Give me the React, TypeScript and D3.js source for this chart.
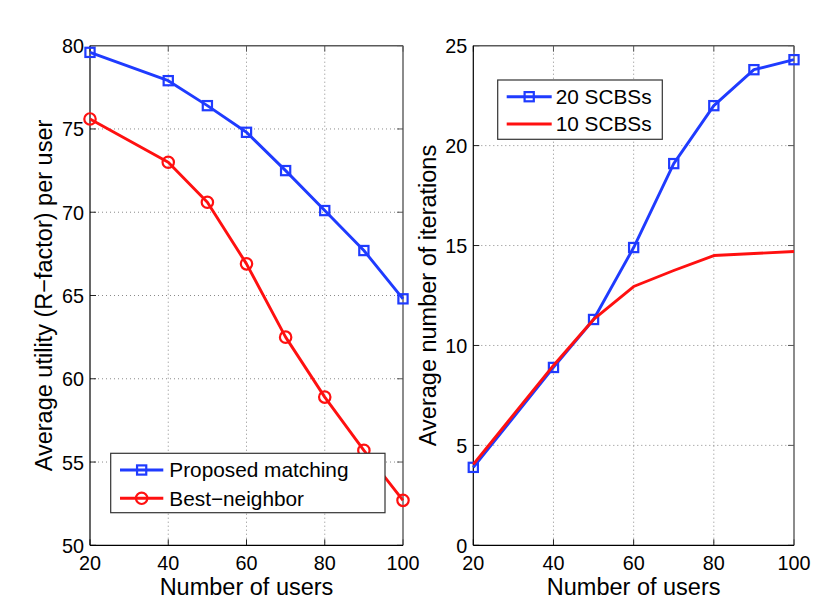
import React from "react";
import * as d3 from "d3";

const usersA = [20, 40, 50, 60, 70, 80, 90, 100];
const proposed = [79.6, 77.9, 76.4, 74.8, 72.5, 70.1, 67.7, 64.8];
const bestNeighbor = [75.6, 73.0, 70.6, 66.9, 62.5, 58.9, 55.7, 52.7];

const usersB = [20, 40, 50, 60, 70, 80, 90, 100];
const scbs20 = [3.9, 8.9, 11.3, 14.9, 19.1, 22.0, 23.8, 24.3];
const usersC = [20, 40, 50, 60, 70, 80, 90, 100];
const scbs10 = [4.05, 9.0, 11.3, 12.95, 13.75, 14.5, 14.6, 14.7];

const xTicks = [20, 40, 60, 80, 100];
const yTicksA = [50, 55, 60, 65, 70, 75, 80];
const yTicksB = [0, 5, 10, 15, 20, 25];

const BLUE = "#1f3bff";
const RED = "#ff1010";
const FONT = "'Liberation Sans', Arial, Helvetica, sans-serif";

type Series = { xs: number[]; ys: number[]; color: string; marker: "square" | "circle" | "none"; label: string };

function Marker({ x, y, kind, color }: { x: number; y: number; kind: string; color: string }) {
  if (kind === "square")
    return <rect x={x - 4.6} y={y - 4.6} width={9.2} height={9.2} fill="none" stroke={color} strokeWidth={2.2} />;
  if (kind === "circle") return <circle cx={x} cy={y} r={5.7} fill="none" stroke={color} strokeWidth={2.2} />;
  return null;
}

function Panel(props: {
  left: number; right: number; top: number; bottom: number;
  yDomain: [number, number]; yTicks: number[]; yLabel: string; series: Series[];
  legend: { x0: number; y0: number; x1: number; y1: number; lineX0: number; lineX1: number; textX: number; rows: number[] };
}) {
  const { left, right, top, bottom, yDomain, yTicks, yLabel, series, legend } = props;
  const x = d3.scaleLinear().domain([20, 100]).range([left, right]);
  const y = d3.scaleLinear().domain(yDomain).range([bottom, top]);
  const line = d3.line<[number, number]>().x((d) => x(d[0])).y((d) => y(d[1]));
  const tl = 6;
  return (
    <g>
      {xTicks.slice(1, -1).map((t) => (
        <line key={"gx" + t} x1={x(t)} x2={x(t)} y1={top} y2={bottom} stroke="#8a8a8a" strokeWidth={1} strokeDasharray="1,3" />
      ))}
      {yTicks.slice(1, -1).map((t) => (
        <line key={"gy" + t} x1={left} x2={right} y1={y(t)} y2={y(t)} stroke="#8a8a8a" strokeWidth={1} strokeDasharray="1,3" />
      ))}
      {xTicks.map((t) => (
        <g key={"tx" + t}>
          <line x1={x(t)} x2={x(t)} y1={bottom} y2={bottom - tl} stroke="#222" strokeWidth={1} />
          <line x1={x(t)} x2={x(t)} y1={top} y2={top + tl} stroke="#555" strokeWidth={1} />
          <text x={x(t)} y={bottom + 24.7} textAnchor="middle" fontSize={19.8} fontFamily={FONT} fill="#000">{t}</text>
        </g>
      ))}
      {yTicks.map((t) => (
        <g key={"ty" + t}>
          <line x1={left} x2={left + tl} y1={y(t)} y2={y(t)} stroke="#222" strokeWidth={1} />
          <line x1={right} x2={right - tl} y1={y(t)} y2={y(t)} stroke="#555" strokeWidth={1} />
          <text x={left - 6} y={y(t) + 7.5} textAnchor="end" fontSize={19.8} fontFamily={FONT} fill="#000">{t}</text>
        </g>
      ))}
      <line x1={left} x2={right} y1={top} y2={top} stroke="#5a5a5a" strokeWidth={1.4} />
      <line x1={right} x2={right} y1={top} y2={bottom} stroke="#5a5a5a" strokeWidth={1.4} />
      <line x1={left} x2={left} y1={top} y2={bottom} stroke="#000" strokeWidth={1.2} />
      <line x1={left} x2={right} y1={bottom} y2={bottom} stroke="#000" strokeWidth={1.2} />
      {series.map((s, i) => {
        const pts = s.xs.map((v, k) => [v, s.ys[k]] as [number, number]);
        return (
          <g key={"s" + i}>
            <path d={line(pts) || ""} fill="none" stroke={s.color} strokeWidth={2.9} strokeLinejoin="round" />
            {pts.map((p, k) => (
              <Marker key={k} x={x(p[0])} y={y(p[1])} kind={s.marker} color={s.color} />
            ))}
          </g>
        );
      })}
      <text x={(left + right) / 2} y={bottom + 50} textAnchor="middle" fontSize={23.5} fontFamily={FONT} fill="#000">Number of users</text>
      <text transform={`translate(${left - (left < 200 ? 38.5 : 37.5)},${(top + bottom) / 2}) rotate(-90)`} textAnchor="middle" fontSize={23.5} fontFamily={FONT} fill="#000">{yLabel}</text>
      <rect x={legend.x0} y={legend.y0} width={legend.x1 - legend.x0} height={legend.y1 - legend.y0} fill="#fff" stroke="#333" strokeWidth={1.2} />
      {series.map((s, i) => {
        const ry = legend.rows[i];
        return (
          <g key={"l" + i}>
            <line x1={legend.lineX0} x2={legend.lineX1} y1={ry} y2={ry} stroke={s.color} strokeWidth={2.9} />
            <Marker x={(legend.lineX0 + legend.lineX1) / 2} y={ry} kind={s.marker} color={s.color} />
            <text x={legend.textX} y={ry + 7.4} fontSize={20.8} fontFamily={FONT} fill="#000">{s.label}</text>
          </g>
        );
      })}
    </g>
  );
}

export default function App() {
  return (
    <svg width={830} height={613} style={{ position: "absolute", left: 0, top: 0, background: "#fff" }}>
      <rect width={830} height={613} fill="#fff" />
      <Panel
        left={90} right={403} top={45.7} bottom={545.3}
        yDomain={[50, 80]} yTicks={yTicksA}
        yLabel="Average utility (R−factor) per user"
        series={[
          { xs: usersA, ys: proposed, color: BLUE, marker: "square", label: "Proposed matching" },
          { xs: usersA, ys: bestNeighbor, color: RED, marker: "circle", label: "Best−neighbor" },
        ]}
        legend={{ x0: 110.7, y0: 453.3, x1: 385, y1: 512.7, lineX0: 120, lineX1: 163.3, textX: 169.3, rows: [470, 498.3] }}
      />
      <Panel
        left={473.3} right={794} top={45.7} bottom={545.3}
        yDomain={[0, 25]} yTicks={yTicksB}
        yLabel="Average number of iterations"
        series={[
          { xs: usersB, ys: scbs20, color: BLUE, marker: "square", label: "20 SCBSs" },
          { xs: usersC, ys: scbs10, color: RED, marker: "none", label: "10 SCBSs" },
        ]}
        legend={{ x0: 497.7, y0: 80, x1: 662.3, y1: 139.3, lineX0: 506.7, lineX1: 551.7, textX: 555.7, rows: [96.7, 124] }}
      />
    </svg>
  );
}
